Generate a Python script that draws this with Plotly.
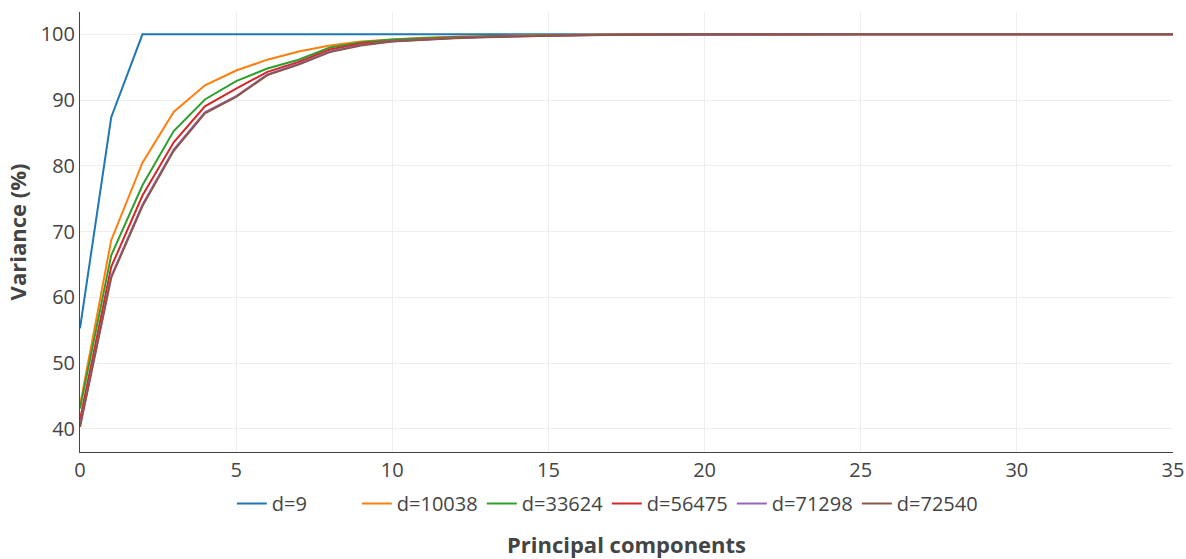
import plotly.graph_objects as go

components = list(range(36))

names = ["d=9", "d=10038", "d=33624", "d=56475", "d=71298", "d=72540"]
colors = ["#1f77b4", "#ff7f0e", "#2ca02c", "#d62728", "#9467bd", "#8c564b"]

v_d9 = [55.3, 87.4] + [100.0] * 34
v_d10038 = [43.6, 68.7, 80.5, 88.2, 92.25, 94.5, 96.15, 97.4, 98.3, 98.9,
            99.2, 99.5, 99.65, 99.75, 99.85, 99.9, 99.94, 99.97, 99.99] + [100.0] * 17
v_d33624 = [43.1, 66.4, 77.05, 85.3, 90.1, 92.9, 94.8, 96.15, 98.0, 98.8,
            99.2, 99.45, 99.6, 99.7, 99.8, 99.88, 99.92, 99.95, 99.97, 99.98] + [100.0] * 16
v_d56475 = [41.4, 64.65, 75.5, 83.6, 89.05, 91.75, 94.3, 95.8, 97.7, 98.6,
            99.0, 99.3, 99.5, 99.65, 99.75, 99.83, 99.9, 99.94, 99.96, 99.98] + [100.0] * 16
v_d71298 = [40.5, 63.2, 74.1, 82.5, 88.15, 90.6, 93.9, 95.5, 97.4, 98.4,
            98.95, 99.25, 99.45, 99.6, 99.72, 99.81, 99.88, 99.93, 99.96, 99.98] + [100.0] * 16
v_d72540 = [40.3, 63.0, 73.9, 82.3, 88.0, 90.5, 93.8, 95.4, 97.3, 98.3,
            98.9, 99.2, 99.4, 99.55, 99.7, 99.8, 99.87, 99.92, 99.95, 99.97] + [100.0] * 16

series = [v_d9, v_d10038, v_d33624, v_d56475, v_d71298, v_d72540]

x_ticks = [0, 5, 10, 15, 20, 25, 30, 35]
y_ticks = [40, 50, 60, 70, 80, 90, 100]

fig = go.Figure()
for name, color, vals in zip(names, colors, series):
    fig.add_trace(go.Scatter(x=components, y=vals, mode="lines", name=name,
                             line=dict(color=color, width=2)))

fig.update_layout(
    template="none",
    width=1186, height=559,
    margin=dict(l=80, r=13, t=12, b=107),
    paper_bgcolor="white", plot_bgcolor="white",
    font=dict(family="Open Sans", size=20, color="#444"),
    legend=dict(orientation="h", x=0.482, xanchor="center", y=-0.073, yanchor="top",
                xref="paper", entrywidth=80, entrywidthmode="pixels",
                font=dict(size=20)),
    xaxis=dict(range=[0, 35], tickvals=x_ticks, showgrid=True, gridcolor="#eee",
               showline=True, linecolor="#444", linewidth=1, zeroline=False, ticks="",
               tickfont=dict(size=20),
               title=dict(text="<b>Principal components</b>", font=dict(size=22), standoff=60)),
    yaxis=dict(range=[36.5, 103.4], tickvals=y_ticks, showgrid=True, gridcolor="#eee",
               showline=True, linecolor="#444", linewidth=1, zeroline=False, ticks="",
               tickfont=dict(size=20),
               title=dict(text="<b>Variance (%)</b>", font=dict(size=22))),
)

fig.write_html("out.html")
